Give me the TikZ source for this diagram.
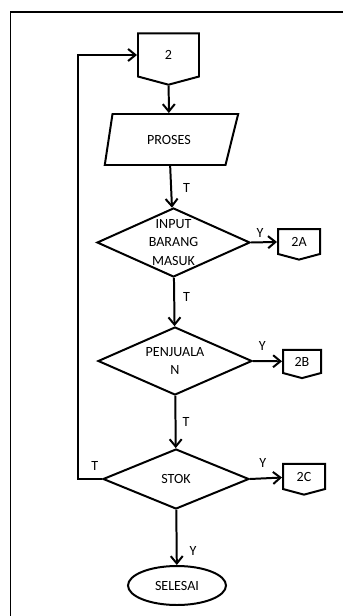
\documentclass[tikz,border=0pt]{standalone}
\usepackage{fontspec}
\setmainfont{Carlito}
\usetikzlibrary{shapes.geometric, shapes.symbols, arrows.meta, positioning}

\begin{document}
\begin{tikzpicture}
  [font=\fontsize{12}{16}\selectfont,
   line/.style={line width=1.7pt, draw=black},
   conn/.style={line, signal, signal to=south, signal pointer angle=150, inner sep=0pt},
   proc/.style={line, trapezium, trapezium left angle=72, trapezium right angle=118,
                trapezium stretches=true, minimum width=4.02cm, minimum height=1.53cm, inner sep=0pt},
   decision/.style={line, diamond, inner sep=0pt},
   term/.style={line, ellipse, minimum width=2.94cm, minimum height=1.17cm, inner sep=0pt},
   flow/.style={line, -{Straight Barb[length=0.22cm, width=0.36cm]}},
   lbl/.style={inner sep=0pt}]

  \useasboundingbox (0,0) rectangle (10.29,-18.48);

  % Bingkai
  \draw[line] (10.29,-0.36) -- (0.315,-0.36) -- (0.315,-18.48);

  % Simpul
  \node[conn, minimum width=1.83cm, minimum height=1.32cm] (c2) at (5.055,-1.65) {2};
  \node[proc] (proses) at (5.07,-4.185) {PROSES};
  \node[decision, minimum width=4.59cm, minimum height=2.07cm,
        label={[align=center]center:INPUT\\BARANG\\MASUK}] (d1) at (5.205,-7.275) {};
  \node[decision, minimum width=4.62cm, minimum height=2.04cm,
        label={[align=center]center:PENJUALA\\N}] (d2) at (5.25,-10.83) {};
  \node[decision, minimum width=4.38cm, minimum height=1.80cm,
        label={center:STOK}] (d3) at (5.28,-14.37) {};
  \node[term] (selesai) at (5.31,-17.565) {SELESAI};

  \node[conn, minimum width=1.26cm, minimum height=0.81cm] (c2a) at (8.97,-7.245) {2A};
  \node[conn, minimum width=1.14cm, minimum height=0.75cm] (c2b) at (9.06,-10.845) {2B};
  \node[conn, minimum width=1.26cm, minimum height=0.81cm] (c2c) at (9.12,-14.295) {2C};

  % Panah
  \draw[flow] (c2) -- (proses);
  \draw[flow] (proses) -- node[lbl, pos=0.53, right=0.33cm] {T} (d1);
  \draw[flow] (d1) -- node[lbl, pos=0.4, right=0.24cm] {T} (d2);
  \draw[flow] (d2) -- node[lbl, pos=0.5, right=0.18cm] {T} (d3);
  \draw[flow] (d3) -- node[lbl, pos=0.75, right=0.36cm] {Y} (selesai);

  \draw[flow] (d1.east) -- node[lbl, pos=0.35, above=0.12cm] {Y} (c2a);
  \draw[flow] (d2.east) -- node[lbl, pos=0.32, above=0.29cm] {Y} (c2b);
  \draw[flow] (d3.east) -- node[lbl, pos=0.4, above=0.29cm] {Y} (c2c);

  \draw[flow] (d3.west) -- node[lbl, pos=0.3, above=0.23cm] {T} ++(-0.72,0) |- (c2.west);
\end{tikzpicture}
\end{document}
